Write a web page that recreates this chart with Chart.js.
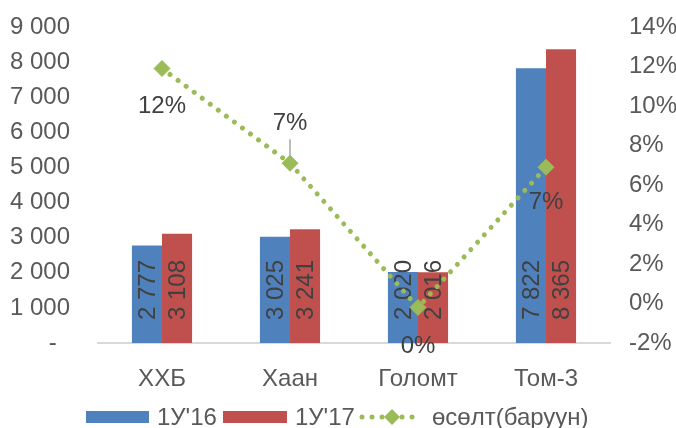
<!DOCTYPE html>
<html>
<head>
<meta charset="utf-8">
<script src="https://cdn.jsdelivr.net/npm/chart.js@4/dist/chart.umd.min.js"></script>
<style>
  body { margin: 0; background: #fff; }
  canvas { display: block; }
</style>
</head>
<body>
<canvas id="chart" width="676" height="428"></canvas>
<script>
// Chart data
const categories = ['ХХБ', 'Хаан', 'Голомт', 'Том-3'];
const values16 = [2777, 3025, 2020, 7822];
const values17 = [3108, 3241, 2016, 8365];
const growth = [0.119, 0.071, -0.002, 0.069];
const seriesNames = ["1У'16", "1У'17", 'өсөлт(баруун)'];

const FONT = '"Liberation Sans", Arial, sans-serif';
const FSIZE = 24;
const BLUE = '#4F81BD', RED = '#C0504D', GREEN = '#9BBB59';

// offsets of the growth labels from their points (dy)
const growthLabelDy = [38, -40, 39, 35];

function fmtThousands(v) {
    if (v === 0) return '-  ';
    return String(v).replace(/\B(?=(\d{3})+(?!\d))/g, ' ');
}

function fmtPct(v) {
    let n = Math.round(v * 100);
    if (n === 0) n = 0; // drop -0
    return n + '%';
}

// Vertical value labels inside bars
const barLabels = {
    id: 'barLabels',
    afterDatasetDraw(chart, args) {
        const ds = chart.data.datasets[args.index];
        if (ds.type !== 'bar') return;
        const ctx = chart.ctx;
        ctx.save();
        ctx.font = FSIZE + 'px ' + FONT;
        ctx.fillStyle = '#404040';
        ctx.textAlign = 'left';
        ctx.textBaseline = 'middle';
        args.meta.data.forEach((bar, i) => {
            ctx.save();
            ctx.translate(bar.x, bar.base - 23);
            ctx.rotate(-Math.PI / 2);
            ctx.fillText(fmtThousands(ds.data[i]), 0, 1);
            ctx.restore();
        });
        ctx.restore();
    }
};

// Growth labels, leader line and custom legend
const extras = {
    id: 'extras',
    afterDraw(chart) {
        const ctx = chart.ctx;
        const meta = chart.getDatasetMeta(2);
        ctx.save();
        ctx.font = FSIZE + 'px ' + FONT;
        ctx.fillStyle = '#404040';
        ctx.textAlign = 'center';
        ctx.textBaseline = 'middle';
        meta.data.forEach((pt, i) => {
            ctx.fillText(fmtPct(growth[i]), pt.x, pt.y + growthLabelDy[i]);
        });
        // leader line for the Хаан label
        const p1 = meta.data[1];
        ctx.strokeStyle = '#A6A6A6';
        ctx.lineWidth = 1.5;
        ctx.beginPath();
        ctx.moveTo(p1.x, p1.y - 24);
        ctx.lineTo(p1.x, p1.y - 6);
        ctx.stroke();

        // legend
        const ly = 417;
        ctx.textAlign = 'left';
        ctx.fillStyle = BLUE;
        ctx.fillRect(86, ly - 6, 63, 12);
        ctx.fillStyle = RED;
        ctx.fillRect(223, ly - 6, 64, 12);
        ctx.fillStyle = '#595959';
        ctx.fillText(seriesNames[0], 157, ly + 1);
        ctx.fillText(seriesNames[1], 295, ly + 1);
        ctx.fillText(seriesNames[2], 432, ly + 1);
        ctx.strokeStyle = GREEN;
        ctx.lineWidth = 5;
        ctx.lineCap = 'round';
        ctx.setLineDash([0.01, 10]);
        ctx.beginPath();
        ctx.moveTo(362, ly);
        ctx.lineTo(422, ly);
        ctx.stroke();
        ctx.setLineDash([]);
        ctx.fillStyle = GREEN;
        ctx.beginPath();
        ctx.moveTo(392, ly - 8);
        ctx.lineTo(400, ly);
        ctx.lineTo(392, ly + 8);
        ctx.lineTo(384, ly);
        ctx.closePath();
        ctx.fill();
        ctx.restore();
    }
};

new Chart(document.getElementById('chart'), {
    data: {
        labels: categories,
        datasets: [
            {
                type: 'bar',
                label: seriesNames[0],
                data: values16,
                backgroundColor: BLUE,
                yAxisID: 'y',
                order: 1,
                categoryPercentage: 0.47,
                barPercentage: 1
            },
            {
                type: 'bar',
                label: seriesNames[1],
                data: values17,
                backgroundColor: RED,
                yAxisID: 'y',
                order: 1,
                categoryPercentage: 0.47,
                barPercentage: 1
            },
            {
                type: 'line',
                label: seriesNames[2],
                data: growth,
                yAxisID: 'y1',
                order: 0,
                borderColor: GREEN,
                borderWidth: 5,
                borderDash: [0.01, 10],
                borderCapStyle: 'round',
                pointStyle: 'rectRot',
                pointRadius: 8,
                pointBackgroundColor: GREEN,
                pointBorderColor: GREEN,
                pointBorderWidth: 1,
                tension: 0,
                fill: false
            }
        ]
    },
    options: {
        responsive: false,
        animation: false,
        devicePixelRatio: 1,
        layout: { padding: { top: 27, left: 0, right: 0, bottom: 0 } },
        plugins: {
            legend: { display: false },
            tooltip: { enabled: false }
        },
        scales: {
            x: {
                grid: { display: false },
                border: { color: '#D9D9D9', width: 2 },
                ticks: { font: { family: FONT, size: FSIZE }, color: '#595959', padding: 14 },
                afterFit(s) { s.height = 85; s.paddingLeft = 0; s.paddingRight = 0; }
            },
            y: {
                position: 'left',
                min: 0,
                max: 9000,
                grid: { display: false },
                border: { display: false },
                ticks: {
                    stepSize: 1000,
                    font: { family: FONT, size: FSIZE },
                    color: '#595959',
                    padding: 20,
                    callback: v => fmtThousands(v)
                },
                afterFit(s) { s.width = 98; s.paddingTop = 0; s.paddingBottom = 0; }
            },
            y1: {
                position: 'right',
                min: -0.02,
                max: 0.14,
                grid: { display: false },
                border: { display: false },
                ticks: {
                    stepSize: 0.02,
                    font: { family: FONT, size: FSIZE },
                    color: '#595959',
                    padding: 11,
                    callback: v => fmtPct(v)
                },
                afterFit(s) { s.width = 66; s.paddingTop = 0; s.paddingBottom = 0; }
            }
        }
    },
    plugins: [barLabels, extras]
});
</script>
</body>
</html>
